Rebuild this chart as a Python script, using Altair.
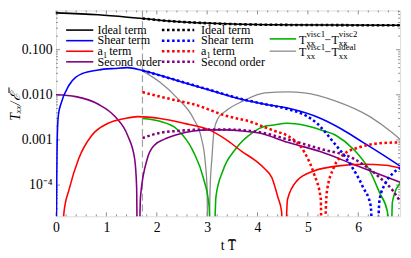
import altair as alt
import pandas as pd

# ---------------- data ----------------
t_ideal = [0.0, 0.84, 1.42, 1.716, 2.1, 3.08, 4.245, 6.83]
v_ideal = [0.655, 0.594, 0.526, 0.49, 0.445, 0.384, 0.357, 0.348]

t_ideal_d = [1.716, 2.1, 3.08, 4.245, 6.83]
v_ideal_d = [0.49, 0.445, 0.384, 0.357, 0.348]

t_shear = [0.0, 0.01, 0.029, 0.05, 0.095, 0.257, 0.51, 0.84, 1.171, 1.42, 1.716,
           2.397, 3.039, 3.70, 4.148, 4.595, 5.257, 5.665, 6.093, 6.483, 6.83]
v_shear = [1e-7, 2.55e-5, 1.69e-3, 3.8e-3, 6.18e-3, 0.0163, 0.0292, 0.0356, 0.0385,
           0.040, 0.0347, 0.0208, 0.0128, 7.88e-3, 6.18e-3, 5.09e-3, 2.99e-3,
           1.75e-3, 8.85e-4, 4.71e-4, 2.63e-4]

t_shear_d = [1.716, 2.397, 3.039, 3.70, 4.148, 4.595, 4.926, 5.18, 5.51, 5.84,
             6.093, 6.249, 6.321, 6.424, 6.541, 6.677, 6.83]
v_shear_d = [0.0347, 0.0210, 0.0130, 8.0e-3, 6.2e-3, 4.84e-3, 3.62e-3, 2.34e-3,
             8.85e-4, 2.90e-4, 9.04e-5, 3.41e-5, 1e-7, 4.80e-5, 1.10e-4, 1.78e-4,
             2.39e-4]

t_a1 = [0.11, 0.16, 0.257, 0.451, 0.704, 1.035, 1.366, 1.619, 2.066, 2.533, 3.039,
        3.37, 3.70, 3.953, 4.148, 4.284, 4.401, 4.479, 4.505, 4.595, 4.79, 5.121,
        5.568, 6.093, 6.541, 6.83]
v_a1 = [5e-6, 2.6e-5, 7.8e-5, 3.88e-4, 1.24e-3, 2.34e-3, 2.99e-3, 3.29e-3, 2.99e-3,
        2.34e-3, 1.67e-3, 1.03e-3, 5.45e-4, 3.52e-4, 2.27e-4, 1.47e-4, 5.55e-5,
        2.55e-5, 1e-7, 4.8e-5, 1.27e-4, 2.06e-4, 2.63e-4, 2.90e-4, 2.76e-4, 2.39e-4]

t_a1_d = [1.716, 2.066, 2.397, 2.728, 3.37, 3.953, 4.09, 4.342, 4.595, 4.926, 5.121,
          5.257, 5.28, 5.374, 5.51, 5.704, 6.035, 6.424, 6.83]
v_a1_d = [0.01145, 9.12e-3, 7.5e-3, 6.18e-3, 3.45e-3, 2.34e-3, 2.02e-3, 1.58e-3,
          1.24e-3, 5.45e-4, 1.78e-4, 4.8e-5, 1e-7, 6.74e-5, 2.39e-4, 4.71e-4,
          6.95e-4, 8.43e-4, 8.85e-4]

t_second = [0.0, 0.393, 0.84, 1.171, 1.424, 1.56, 1.60, 1.625, 1.677, 1.813, 1.953,
            2.144, 2.397, 2.728, 3.039, 3.37, 3.70, 4.012, 4.595, 5.257, 5.899, 6.83]
v_second = [0.01005, 9.12e-3, 6.18e-3, 3.29e-3, 1.24e-3, 3.88e-4, 9.04e-5, 1e-7,
            5.55e-5, 3.88e-4, 7.66e-4, 1.03e-3, 1.31e-3, 1.58e-3, 1.67e-3, 1.67e-3,
            1.58e-3, 1.44e-3, 8.85e-4, 5.45e-4, 2.90e-4, 1.15e-4]

t_second_d = [1.716, 2.066, 2.397, 2.728, 3.039, 3.37, 3.70, 4.012, 4.595, 5.257,
              5.899, 6.424, 6.677, 6.83]
v_second_d = [1.1e-3, 1.44e-3, 1.58e-3, 1.67e-3, 1.70e-3, 1.70e-3, 1.65e-3, 1.51e-3,
              1.03e-3, 6.31e-4, 3.88e-4, 1.47e-4, 7.8e-5, 4.36e-5]

t_v1v2 = [1.716, 2.066, 2.397, 2.728, 2.922, 3.039, 3.097, 3.175, 3.311, 3.564,
          3.895, 4.148, 4.284, 4.595, 4.926, 5.257, 5.568, 5.899, 6.23, 6.424,
          6.58, 6.63, 6.677, 6.83]
v_v1v2 = [2.99e-3, 2.58e-3, 1.75e-3, 5.45e-4, 1.47e-4, 3.41e-5, 1e-7, 5.55e-5,
          2.06e-4, 6.31e-4, 1.44e-3, 2.02e-3, 2.12e-3, 2.34e-3, 2.12e-3, 1.67e-3,
          1.24e-3, 6.31e-4, 2.06e-4, 6.74e-5, 2.55e-5, 1e-7, 4.15e-5, 1.10e-4]

t_v1id = [1.716, 2.066, 2.397, 2.728, 2.883, 2.961, 3.0, 3.019, 3.058, 3.097, 3.136,
          3.214, 3.37, 3.70, 4.148, 4.595, 4.926, 5.568, 6.23, 6.677, 6.83]
v_v1id = [0.0339, 0.0189, 8.69e-3, 2.99e-3, 1.13e-3, 3.35e-4, 7.8e-5, 1e-7, 7.8e-5,
          4.27e-4, 1.58e-3, 2.99e-3, 4.4e-3, 7.17e-3, 0.01107, 0.01161, 0.01107,
          7.17e-3, 3.29e-3, 1.44e-3, 1.03e-3]

t_switch = [1.716]

x_major = [0, 1, 2, 3, 4, 5, 6]
x_minor = [round(0.2 * k, 1) for k in range(1, 35) if k % 5 != 0]
y_major = [1e-4, 1e-3, 1e-2, 1e-1]
y_minor = [m * d for d in [1e-5, 1e-4, 1e-3, 1e-2, 1e-1] for m in range(2, 10)
           if 2.03e-5 < m * d < 0.74]

legend_solid = ["Ideal term", "Shear term", None, "Second order"]
legend_colors = ["#000000", "#0000ff", "#ff0000", "#800080"]

# ---------------- styling ----------------
W, H = 351, 210
FONT = "Liberation Serif"
FRAME = "#8c8c8c"
GREEN = "#00b000"
GRAY = "#8a8a8a"
FS = 12.3

xs = alt.Scale(domain=[0, 6.83], nice=False, zero=False)
ys = alt.Scale(type="log", domain=[2.03e-5, 0.74], nice=False)

xaxis = alt.Axis(values=x_major, format="d", ticks=False, domain=False, grid=False,
                 labelFont=FONT, labelFontSize=14, labelColor="black", labelPadding=5,
                 labelFlush=False, labelOverlap=False,
                 title="t T\u0305", titleFont=FONT, titleFontSize=14,
                 titleFontWeight="normal", titleColor="black",
                 titleX=W / 2, titleY=34, titleAlign="center", titleBaseline="alphabetic")
yaxis = alt.Axis(values=y_major, ticks=False, domain=False, grid=False,
                 labelExpr="datum.value < 0.0005 ? '10\u207b\u2074' : format(datum.value, '.3f')",
                 labelFont=FONT, labelFontSize=14, labelColor="black", labelPadding=4,
                 labelFlush=False, labelOverlap=False,
                 title="T\u2093\u2093/\u2130\u0305", titleFont=FONT, titleFontSize=14,
                 titleFontWeight="normal", titleFontStyle="italic", titleColor="black",
                 titleX=-37, titleY=98, titleAngle=270, titleAlign="center",
                 titleBaseline="alphabetic")

X = alt.X("t:Q", scale=xs, axis=xaxis)
Y = alt.Y("v:Q", scale=ys, axis=yaxis)


def df(t, v):
    return pd.DataFrame({"t": t, "v": v})


def curve(t, v, color, dotted=False, width=1.6):
    if dotted:
        mk = alt.Chart(df(t, v)).mark_line(clip=True, interpolate="monotone", color=color,
                                           strokeWidth=2.6, strokeDash=[2.6, 2.6],
                                           strokeCap="butt")
    else:
        mk = alt.Chart(df(t, v)).mark_line(clip=True, interpolate="monotone", color=color,
                                           strokeWidth=width)
    return mk.encode(x=X, y=Y)


dummy = pd.DataFrame({"t": [0]})


def txt(s, x, y, size=FS, style="normal", align="left", baseline="alphabetic"):
    return alt.Chart(dummy).mark_text(text=s, font=FONT, fontSize=size, fontStyle=style,
                                      align=align, baseline=baseline, color="black"
                                      ).encode(x=alt.value(x), y=alt.value(y))


def seg(x1, x2, y, color, dotted=False, width=1.6):
    if dotted:
        m = alt.Chart(dummy).mark_rule(color=color, strokeWidth=2.6, strokeDash=[2.6, 2.6],
                                       strokeCap="butt")
    else:
        m = alt.Chart(dummy).mark_rule(color=color, strokeWidth=width)
    return m.encode(x=alt.value(x1), x2=alt.value(x2), y=alt.value(y))


def label(lab, x, base):
    if lab is None:  # "a1 term" with a real subscript
        return [txt("a", x, base), txt("1", x + 5.6, base + 3, size=8.5),
                txt("term", x + 12, base)]
    return [txt(lab, x, base)]


layers = []

# frame ticks
tx_maj = pd.DataFrame({"t": x_major})
tx_min = pd.DataFrame({"t": x_minor})
ty_maj = pd.DataFrame({"v": y_major})
ty_min = pd.DataFrame({"v": y_minor})
for d, L in [(tx_maj, 4), (tx_min, 2)]:
    layers.append(alt.Chart(d).mark_rule(color=FRAME, strokeWidth=1).encode(
        x=X, y=alt.value(H), y2=alt.value(H - L)))
    layers.append(alt.Chart(d).mark_rule(color=FRAME, strokeWidth=1).encode(
        x=X, y=alt.value(0), y2=alt.value(L)))
for d, L in [(ty_maj, 4), (ty_min, 2)]:
    layers.append(alt.Chart(d).mark_rule(color=FRAME, strokeWidth=1).encode(
        y=Y, x=alt.value(0), x2=alt.value(L)))
    layers.append(alt.Chart(d).mark_rule(color=FRAME, strokeWidth=1).encode(
        y=Y, x=alt.value(W), x2=alt.value(W - L)))

# switching time
layers.append(alt.Chart(pd.DataFrame({"t": t_switch})).mark_rule(
    color="#a0a0a0", strokeWidth=1.2, strokeDash=[7, 4]).encode(x=X))

# solid curves
layers += [
    curve(t_v1id, v_v1id, GRAY, width=1.3),
    curve(t_v1v2, v_v1v2, GREEN),
    curve(t_second, v_second, "#800080"),
    curve(t_a1, v_a1, "#ff0000"),
    curve(t_shear, v_shear, "#0000ff"),
    curve(t_ideal, v_ideal, "#000000"),
]
# dotted curves
layers += [
    curve(t_second_d, v_second_d, "#800080", dotted=True),
    curve(t_a1_d, v_a1_d, "#ff0000", dotted=True),
    curve(t_shear_d, v_shear_d, "#0000ff", dotted=True),
    curve(t_ideal_d, v_ideal_d, "#000000", dotted=True),
]

# legends
rows = [20.0, 30.8, 41.6, 52.4]
for lab, col, ry in zip(legend_solid, legend_colors, rows):
    layers.append(seg(10.3, 38, ry, col))
    layers += label(lab, 42.3, ry + 3.8)
    layers.append(seg(108, 141, ry, col, dotted=True))
    layers += label(lab, 148, ry + 3.8)

for col, ry, base, sup2 in [(GREEN, 29.0, 34.0, "visc2"), (GRAY, 41.5, 46.5, "ideal")]:
    layers.append(seg(218, 245, ry, col, width=1.6 if col == GREEN else 1.3))
    layers.append(txt("T", 248, base))
    layers.append(txt("visc1", 255.5, base - 6.5, size=9))
    layers.append(txt("xx", 255.5, base + 2.5, size=9))
    layers.append(txt("\u2212", 274, base))
    layers.append(txt("T", 281, base))
    layers.append(txt(sup2, 288.5, base - 6.5, size=9))
    layers.append(txt("xx", 288.5, base + 2.5, size=9))

chart = alt.layer(*layers).properties(
    width=W, height=H,
    padding={"left": 49, "top": 0, "right": 3, "bottom": 40},
    autosize=alt.AutoSizeParams(type="none"),
).configure_view(stroke=FRAME, strokeWidth=1).configure(background="white")

chart.save("out.html", embed_options={"renderer": "svg", "actions": False})
